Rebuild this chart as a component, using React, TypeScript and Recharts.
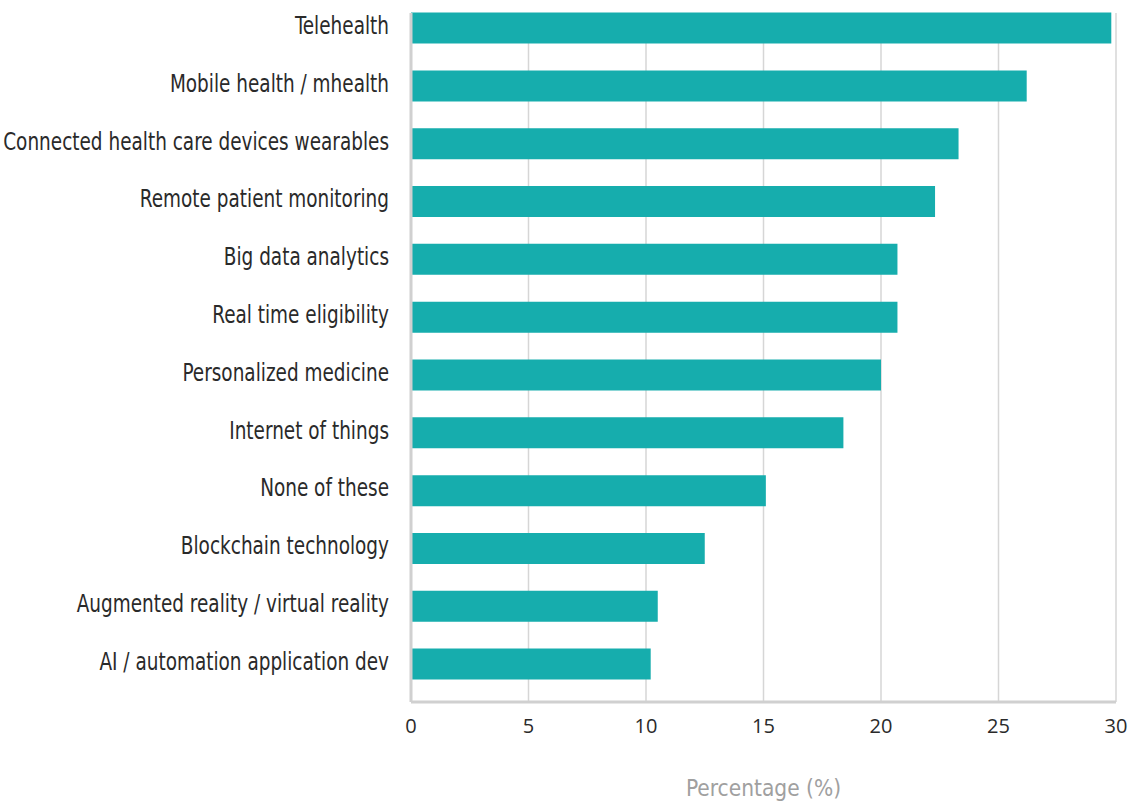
import React from "react";
import { BarChart, Bar, XAxis, YAxis, CartesianGrid } from "recharts";

// Share of respondents per technology (%)
const categories = [
  "Telehealth",
  "Mobile health / mhealth",
  "Connected health care devices wearables",
  "Remote patient monitoring",
  "Big data analytics",
  "Real time eligibility",
  "Personalized medicine",
  "Internet of things",
  "None of these",
  "Blockchain technology",
  "Augmented reality / virtual reality",
  "AI / automation application dev",
];
const percentages = [29.8, 26.2, 23.3, 22.3, 20.7, 20.7, 20.0, 18.4, 15.1, 12.5, 10.5, 10.2];
const xTicks = [0, 5, 10, 15, 20, 25, 30];

const data = categories.map((name, i) => ({ name, value: percentages[i] }));

const labelFont = '"DejaVu Sans Condensed", "DejaVu Sans", sans-serif';
const axisGray = "#d0d0d0";

// condensed-looking category label, squeezed horizontally
const CategoryTick = (props: any) => {
  const { x, y, payload } = props;
  return (
    <g transform={`translate(${x - 20},${y - 3}) scale(0.855,1)`}>
      <text textAnchor="end" dy="0.35em" fill="#2a2a2a" fontSize={24} fontFamily={labelFont}>
        {payload.value}
      </text>
    </g>
  );
};

export default function App() {
  return (
    <div style={{ position: "absolute", left: 0, top: 0, background: "#fff" }}>
      <BarChart
        width={1131}
        height={802}
        data={data}
        layout="vertical"
        margin={{ top: 13, right: 15, bottom: 0, left: 0 }}
      >
        <CartesianGrid horizontal={false} stroke="#d6d6d6" strokeWidth={1.5} />
        <XAxis
          type="number"
          domain={[0, 30]}
          ticks={xTicks}
          height={100}
          axisLine={{ stroke: axisGray, strokeWidth: 3 }}
          tickLine={false}
          tickSize={0}
          tickMargin={17}
          tick={{ fill: "#2a2a2a", fontSize: 20, fontFamily: '"Open Sans", sans-serif' }}
          label={{
            value: "Percentage (%)",
            position: "insideBottom",
            offset: 6,
            fill: "#a0a0a0",
            fontSize: 22.5,
            fontFamily: labelFont,
          }}
        />
        <YAxis
          type="category"
          dataKey="name"
          width={411}
          padding={{ top: -13.4, bottom: 8.6 }}
          axisLine={{ stroke: axisGray, strokeWidth: 3 }}
          tickLine={false}
          tickSize={0}
          interval={0}
          tick={<CategoryTick />}
        />
        <Bar dataKey="value" fill="#16adad" barSize={31} isAnimationActive={false} />
      </BarChart>
    </div>
  );
}
